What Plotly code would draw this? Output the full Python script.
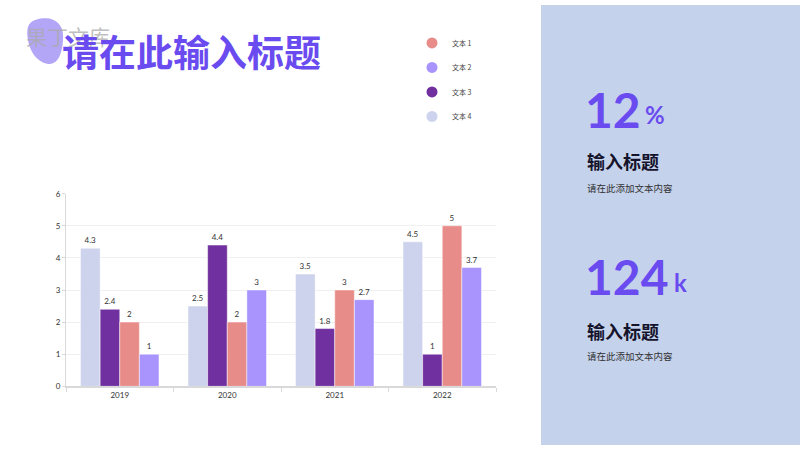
import plotly.graph_objects as go

categories = ["2019", "2020", "2021", "2022"]
series_names = ["文本 4", "文本 3", "文本 1", "文本 2"]
s4 = [4.3, 2.5, 3.5, 4.5]
s3 = [2.4, 4.4, 1.8, 1.0]
s1 = [2.0, 2.0, 3.0, 5.0]
s2 = [1.0, 3.0, 2.7, 3.7]
legend_order = ["文本 1", "文本 2", "文本 3", "文本 4"]
y_ticks = [0, 1, 2, 3, 4, 5, 6]

colors = {"文本 1": "#E88C8A", "文本 2": "#A993FC", "文本 3": "#7030A0", "文本 4": "#CDD3EC"}
values = {"文本 4": s4, "文本 3": s3, "文本 1": s1, "文本 2": s2}

W, H = 800, 450
def px(x):
    return x / W
def py(y):
    return 1 - y / H

fig = go.Figure()
for name in series_names:
    v = values[name]
    fig.add_trace(go.Bar(
        x=categories, y=v, name=name, legendgroup=name, showlegend=False,
        marker=dict(color=colors[name], line=dict(color="rgba(255,255,255,0.6)", width=0.8)),
        text=[("%g" % t) for t in v], textposition="outside", cliponaxis=False,
        textfont=dict(family="Lato, sans-serif", size=8, color="#333333"),
        hoverinfo="x+y+name",
    ))
for name in legend_order:
    fig.add_trace(go.Scatter(
        x=[None], y=[None], mode="markers", name=name, legendgroup=name,
        marker=dict(color=colors[name], size=11, symbol="circle"),
    ))

fig.update_layout(
    width=W, height=H, autosize=False, margin=dict(l=0, r=0, t=0, b=0),
    paper_bgcolor="white", plot_bgcolor="white",
    barmode="group", bargap=0.27, bargroupgap=0,
    font=dict(family="Lato, 'Noto Sans CJK SC', sans-serif", color="#333333"),
    showlegend=True,
    legend=dict(x=px(412), y=py(24), xanchor="left", yanchor="top",
                traceorder="grouped", tracegroupgap=5.5,
                font=dict(family="'Noto Sans CJK SC', sans-serif", size=7, color="#444444"),
                bgcolor="rgba(0,0,0,0)", itemwidth=30),
    xaxis=dict(domain=[px(66), px(496)], showline=True, linecolor="#D9D9D9", linewidth=1.5,
               ticks="outside", tickson="boundaries", ticklen=4, tickcolor="#D9D9D9",
               tickfont=dict(family="Lato, sans-serif", size=8, color="#333333"),
               showgrid=False, fixedrange=True),
    yaxis=dict(domain=[py(390), py(193)], range=[0, 6], tickvals=y_ticks,
               showline=True, linecolor="#D9D9D9", linewidth=1,
               ticks="outside", ticklen=3, tickcolor="#D9D9D9",
               gridcolor="#F0F0F0", gridwidth=1, zeroline=False,
               tickfont=dict(family="Lato, sans-serif", size=8, color="#333333"),
               fixedrange=True),
)

shapes = [
    dict(type="rect", xref="paper", yref="paper", x0=px(541), x1=1, y0=0, y1=1,
         fillcolor="#C5D2EC", line=dict(width=0), layer="below"),
]
blob_pts = "M {} {} C {} {}, {} {}, {} {} C {} {}, {} {}, {} {} C {} {}, {} {}, {} {} C {} {}, {} {}, {} {} Z"
raw = [(36, 15), (52, 10), (65, 18), (63, 36), (62, 50), (58, 62), (47, 60),
       (37, 58), (30, 48), (28, 36), (26, 24), (28, 17), (36, 15)]
coords = []
for (a, b) in raw:
    coords += [px(a), py(b)]
shapes.append(dict(type="path", xref="paper", yref="paper", path=blob_pts.format(*coords),
                   fillcolor="#B3A6F7", line=dict(width=0), layer="below"))
fig.update_layout(shapes=shapes)

cjk = "'Noto Sans CJK SC', sans-serif"
ann = [
    dict(text="果丁文库", x=px(24), y=py(32), font=dict(family=cjk, size=21, color="rgba(170,170,170,0.75)")),
    dict(text="<b>请在此输入标题</b>", x=px(60), y=py(47), font=dict(family=cjk, size=37, color="#6A4BF0")),
    dict(text="<b>12</b>", x=px(583), y=py(107), font=dict(family="Lato, sans-serif", size=48, color="#6A4BF0")),
    dict(text="<b>%</b>", x=px(643), y=py(112), font=dict(family="Lato, sans-serif", size=24, color="#6A4BF0")),
    dict(text="<b>输入标题</b>", x=px(585), y=py(160), font=dict(family=cjk, size=18, color="#15132B")),
    dict(text="请在此添加文本内容", x=px(585), y=py(187), font=dict(family=cjk, size=9.5, color="#333333")),
    dict(text="<b>124</b>", x=px(583), y=py(278), font=dict(family="Lato, sans-serif", size=48, color="#6A4BF0")),
    dict(text="<b>k</b>", x=px(672), y=py(284), font=dict(family="Lato, sans-serif", size=24, color="#6A4BF0")),
    dict(text="<b>输入标题</b>", x=px(585), y=py(333), font=dict(family=cjk, size=18, color="#15132B")),
    dict(text="请在此添加文本内容", x=px(585), y=py(359), font=dict(family=cjk, size=9.5, color="#333333")),
]
for a in ann:
    a.update(xref="paper", yref="paper", xanchor="left", yanchor="middle", showarrow=False)
fig.update_layout(annotations=ann)

css = ("html,body{margin:0!important;padding:0!important;width:800px;height:450px;overflow:hidden;background:#FFFFFF;}"
       "body>div{margin:0;padding:0;height:450px;overflow:hidden;}")
fig.write_html(
    "out.html",
    config={"responsive": False, "displayModeBar": False},
    post_script="var s=document.createElement('style');s.innerHTML='" + css + "';document.head.appendChild(s);",
)
